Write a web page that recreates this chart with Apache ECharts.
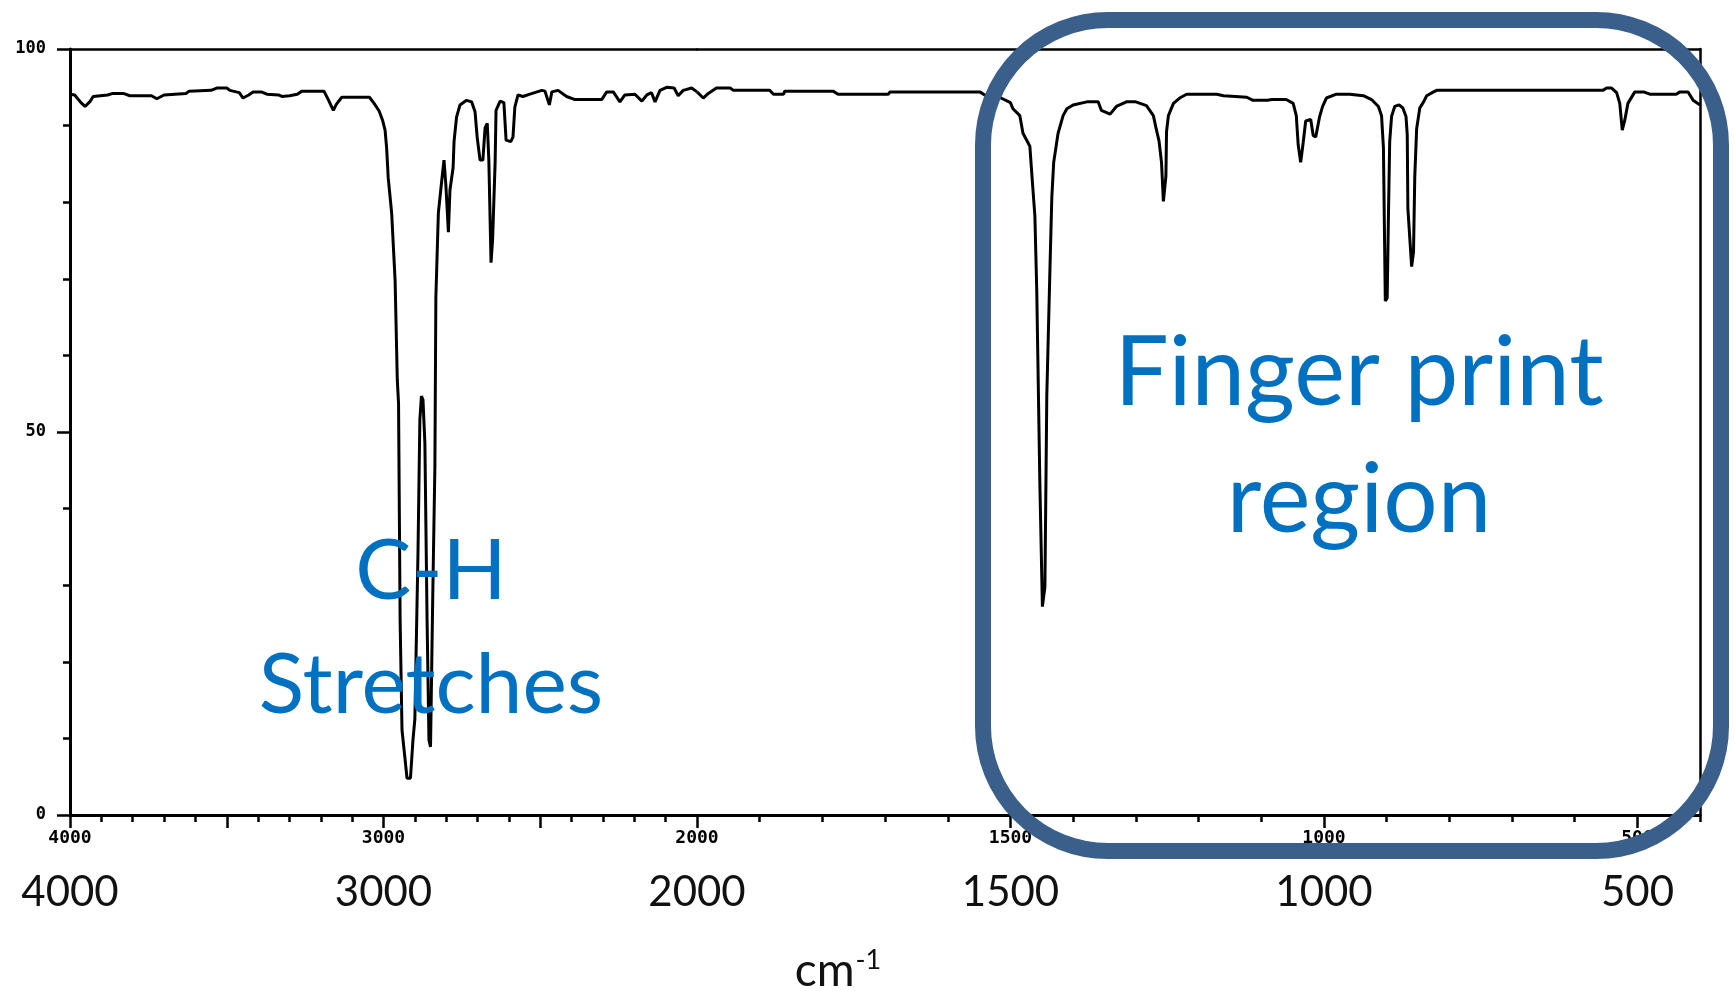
<!DOCTYPE html>
<html>
<head>
<meta charset="utf-8">
<title>IR spectrum</title>
<script src="https://cdn.jsdelivr.net/npm/echarts@6/dist/echarts.min.js"></script>
<style>
  html, body { margin: 0; padding: 0; background: #ffffff; }
  #chart { width: 1735px; height: 991px; }
</style>
</head>
<body>
<div id="chart"></div>
<script>
// Transmittance (%) against wavenumber (cm-1), 4000 to 2000 cm-1 (compressed scale)
const highWavenumber = [
  4000, 3985, 3965, 3952, 3935, 3926, 3880, 3863, 3830, 3809, 3740, 3723, 3700, 3630, 3620,
  3550, 3532, 3500, 3490, 3460, 3448, 3430, 3416, 3390, 3372, 3335, 3324, 3300, 3275, 3260,
  3190, 3175, 3160, 3150, 3133, 3045, 3030, 3014, 3003, 2995, 2990, 2985, 2974, 2963, 2956,
  2952, 2947, 2941, 2931, 2925, 2914, 2906, 2900, 2890, 2884, 2879, 2874, 2868, 2861, 2855,
  2850, 2843, 2836, 2833, 2825, 2814, 2807, 2801, 2793, 2788, 2778, 2775, 2767, 2756, 2735,
  2719, 2708, 2701, 2692, 2683, 2676, 2669, 2664, 2657, 2652, 2644, 2641, 2628, 2616, 2609,
  2603, 2594, 2587, 2581, 2571, 2555, 2533, 2495, 2485, 2471, 2463, 2443, 2416, 2389, 2304,
  2288, 2267, 2246, 2230, 2198, 2176, 2160, 2145, 2134, 2118, 2097, 2073, 2060, 2044, 2017,
  2000
];
const highTransmittance = [
  94.1, 94.0, 93.0, 92.5, 93.2, 93.8, 94.0, 94.2, 94.2, 93.9, 93.9, 93.5, 94.0, 94.2, 94.5,
  94.6, 94.9, 94.9, 94.6, 94.3, 93.6, 94.0, 94.4, 94.4, 94.1, 94.0, 93.8, 93.9, 94.1, 94.5,
  94.5, 93.3, 92.0, 92.8, 93.7, 93.7, 92.9, 91.9, 90.7, 89.4, 87.1, 83.2, 78.6, 69.8, 56.8,
  53.7, 25.5, 11.1, 7.2, 4.8, 4.8, 9.8, 12.5, 34.2, 51.6, 54.7, 54.2, 48.6, 25.5, 9.8,
  8.9, 28.3, 45.7, 67.5, 78.6, 82.9, 85.5, 82.2, 76.1, 81.6, 84.5, 87.9, 91.1, 92.7, 93.3,
  93.1, 91.8, 88.4, 85.5, 85.5, 89.7, 90.3, 85.5, 72.1, 75.1, 85.1, 92.0, 93.2, 93.0, 88.1,
  87.9, 87.9, 88.5, 92.4, 94.0, 93.8, 94.1, 94.6, 94.5, 92.7, 94.4, 94.6, 93.8, 93.4, 93.4,
  94.4, 94.4, 93.1, 94.0, 94.1, 93.2, 94.0, 94.3, 93.1, 94.6, 95.0, 94.9, 93.9, 94.6, 94.9,
  94.4
];

// Transmittance (%) against wavenumber (cm-1), 2000 to 400 cm-1 (expanded scale)
const lowWavenumber = [
  2000, 1998, 1990, 1982, 1969, 1947, 1942, 1884, 1878, 1862, 1860, 1783, 1775, 1695, 1692,
  1549, 1541, 1520, 1500, 1496, 1485, 1480, 1469, 1466, 1461, 1458, 1453, 1449, 1445, 1442,
  1437, 1434, 1431, 1424, 1416, 1410, 1400, 1378, 1360, 1355, 1341, 1331, 1315, 1300, 1283,
  1272, 1267, 1263, 1259, 1256, 1252, 1251, 1248, 1240, 1230, 1219, 1171, 1160, 1123, 1113,
  1090, 1083, 1060, 1049, 1044, 1041, 1037, 1033, 1029, 1021, 1017, 1013, 1007, 1002, 996,
  980, 959, 937, 924, 913, 908, 905, 902, 899, 897, 895, 892, 887, 880, 874,
  869, 867, 866, 860, 857, 855, 852, 847, 841, 836, 825, 820, 555, 549, 541,
  533, 528, 524, 520, 515, 504, 490, 480, 438, 432, 419, 411, 400
];
const lowTransmittance = [
  94.4, 94.4, 93.6, 94.2, 94.9, 94.9, 94.6, 94.6, 94.1, 94.1, 94.5, 94.5, 94.1, 94.1, 94.4,
  94.4, 94.0, 93.8, 93.0, 92.2, 91.3, 89.0, 87.3, 83.8, 78.2, 68.4, 43.0, 27.2, 29.8, 54.7,
  71.2, 80.6, 85.2, 89.0, 91.3, 92.2, 92.7, 93.1, 93.1, 92.0, 91.5, 92.5, 93.1, 93.1, 92.6,
  91.3, 89.4, 88.0, 85.2, 80.1, 83.4, 89.2, 91.3, 92.9, 93.6, 94.1, 94.1, 93.9, 93.7, 93.3,
  93.3, 93.4, 93.4, 92.9, 91.3, 87.5, 85.2, 87.8, 90.6, 90.8, 88.7, 88.5, 91.1, 92.5, 93.6,
  94.1, 94.1, 93.9, 93.4, 92.5, 91.3, 87.1, 67.1, 67.5, 78.2, 87.9, 91.2, 92.5, 92.7, 92.3,
  91.2, 88.8, 79.2, 71.6, 73.5, 83.3, 89.6, 92.3, 93.1, 93.9, 94.4, 94.6, 94.6, 94.9, 94.9,
  94.3, 92.9, 89.4, 90.7, 92.9, 94.4, 94.4, 94.1, 94.1, 94.4, 94.4, 93.3, 92.7
];

// Labelled wavenumbers on each part of the axis, and labelled transmittance values
const highAxisLabels = [4000, 3000, 2000];
const lowAxisLabels = [1500, 1000, 500];
const transmittanceLabels = [0, 50, 100];

const chart = echarts.init(document.getElementById('chart'), null, { renderer: 'canvas' });

const INK = '#000000';
const NOTE_BLUE = '#0070C0';
const FRAME_BLUE = '#3A5F8B';

const pairs = (xs, ys) => xs.map((x, i) => [x, ys[i]]);
// Each labelled wavenumber carries a small instrument label and a large caption below it
const twoLevel = (list) => (v) => (list.indexOf(v) >= 0 ? '{s|' + v + '}\n{b|' + v + '}' : '');
const twoLevelRich = {
  s: { fontFamily: 'DejaVu Sans Mono', fontWeight: 'bold', fontSize: 18, color: INK, lineHeight: 18 },
  b: { fontFamily: 'Lato', fontSize: 42, color: '#111111', lineHeight: 90 }
};

const plotTop = 49, plotHeight = 766;
const noLine = { show: false };

const option = {
  backgroundColor: '#ffffff',
  animation: false,
  grid: [
    { left: 70, top: plotTop, width: 627, height: plotHeight, outerBoundsMode: 'none' },    // 4000-2000
    { left: 697, top: plotTop, width: 1003, height: plotHeight, outerBoundsMode: 'none' },  // 2000-400
    { left: 697, top: plotTop, width: 1254, height: plotHeight, outerBoundsMode: 'none' }   // 2000-0 tick scale
  ],
  xAxis: [
    { // 0: compressed part, axis line, ticks and labels
      type: 'value', gridIndex: 0, position: 'bottom', min: 2000, max: 4000, inverse: true, interval: 500,
      axisLine: { onZero: false, lineStyle: { color: INK, width: 3 } },
      axisTick: { length: 13, lineStyle: { color: INK, width: 2.5 } },
      minorTick: { show: true, splitNumber: 5, length: 7, lineStyle: { color: INK, width: 2.5 } },
      splitLine: { show: false }, minorSplitLine: { show: false },
      axisLabel: { margin: 14, showMinLabel: true, showMaxLabel: true, formatter: twoLevel(highAxisLabels), rich: twoLevelRich }
    },
    { // 1: top frame of compressed part
      type: 'value', gridIndex: 0, position: 'top', min: 2000, max: 4000, inverse: true,
      axisLine: { onZero: false, lineStyle: { color: INK, width: 2.5 } },
      axisTick: { show: false }, axisLabel: { show: false }, splitLine: { show: false }
    },
    { // 2: expanded part, axis line and 100 cm-1 ticks
      type: 'value', gridIndex: 1, position: 'bottom', min: 400, max: 2000, inverse: true, interval: 100,
      axisLine: { onZero: false, lineStyle: { color: INK, width: 3 } },
      axisTick: { length: 7, lineStyle: { color: INK, width: 2.5 } },
      axisLabel: { show: false }, splitLine: { show: false }
    },
    { // 3: top frame of expanded part
      type: 'value', gridIndex: 1, position: 'top', min: 400, max: 2000, inverse: true,
      axisLine: { onZero: false, lineStyle: { color: INK, width: 2.5 } },
      axisTick: { show: false }, axisLabel: { show: false }, splitLine: { show: false }
    },
    { // 4: 500 cm-1 ticks and labels of expanded part
      type: 'value', gridIndex: 2, position: 'bottom', min: 0, max: 2000, inverse: true, interval: 500,
      axisLine: { show: false, onZero: false },
      axisTick: { length: 13, lineStyle: { color: INK, width: 2.5 } },
      splitLine: { show: false },
      axisLabel: { margin: 14, formatter: twoLevel(lowAxisLabels), rich: twoLevelRich }
    }
  ],
  yAxis: [
    { // 0: left axis, labelled every 50 %, ticked every 10 %
      type: 'value', gridIndex: 0, position: 'left', min: 0, max: 100, interval: 50,
      axisLine: { show: true, onZero: false, lineStyle: { color: INK, width: 3 } },
      axisTick: { show: true, length: 13, lineStyle: { color: INK, width: 2.5 } },
      minorTick: { show: true, splitNumber: 5, length: 7, lineStyle: { color: INK, width: 2.5 } },
      splitLine: { show: false }, minorSplitLine: { show: false },
      axisLabel: {
        margin: 24, fontFamily: 'DejaVu Sans Mono', fontWeight: 'bold', fontSize: 17, color: INK,
        formatter: (v) => (transmittanceLabels.indexOf(v) >= 0 ? String(v) : '')
      }
    },
    { // 1: right frame
      type: 'value', gridIndex: 1, position: 'right', min: 0, max: 100,
      axisLine: { show: true, onZero: false, lineStyle: { color: INK, width: 2.5 } },
      axisTick: { show: false }, axisLabel: { show: false }, splitLine: { show: false }
    },
    { // 2: scale companion for the tick grid
      type: 'value', gridIndex: 2, min: 0, max: 100, show: false
    }
  ],
  series: [
    {
      type: 'line', xAxisIndex: 0, yAxisIndex: 0,
      data: pairs(highWavenumber, highTransmittance),
      showSymbol: false, smooth: false,
      lineStyle: { color: INK, width: 3 }
    },
    {
      type: 'line', xAxisIndex: 2, yAxisIndex: 1,
      data: pairs(lowWavenumber, lowTransmittance),
      showSymbol: false, smooth: false,
      lineStyle: { color: INK, width: 3 }
    }
  ],
  graphic: [
    {
      type: 'rect', z: 100,
      shape: { x: 983, y: 20, width: 738, height: 831, r: 125 },
      style: { fill: 'none', stroke: FRAME_BLUE, lineWidth: 16 }
    },
    {
      type: 'text', z: 101, x: 431, y: 572,
      style: { text: 'C-H', fill: NOTE_BLUE, font: '84px Lato', textAlign: 'center', textVerticalAlign: 'middle' }
    },
    {
      type: 'text', z: 101, x: 431, y: 686,
      style: { text: 'Stretches', fill: NOTE_BLUE, font: '84px Lato', textAlign: 'center', textVerticalAlign: 'middle' }
    },
    {
      type: 'text', z: 101, x: 1359, y: 374,
      style: { text: 'Finger print', fill: NOTE_BLUE, font: '96px Lato', textAlign: 'center', textVerticalAlign: 'middle' }
    },
    {
      type: 'text', z: 101, x: 1359, y: 501,
      style: { text: 'region', fill: NOTE_BLUE, font: '96px Lato', textAlign: 'center', textVerticalAlign: 'middle' }
    },
    {
      type: 'text', z: 101, x: 838, y: 971,
      style: {
        text: '{u|cm}{s|-1}', textAlign: 'center', textVerticalAlign: 'middle',
        rich: {
          u: { fontFamily: 'Lato', fontSize: 46, fill: '#111111', color: '#111111' },
          s: { fontFamily: 'Lato', fontSize: 27, fill: '#111111', color: '#111111', verticalAlign: 'top', padding: [0, 0, 22, 1] }
        }
      }
    }
  ]
};

chart.setOption(option);
</script>
</body>
</html>
